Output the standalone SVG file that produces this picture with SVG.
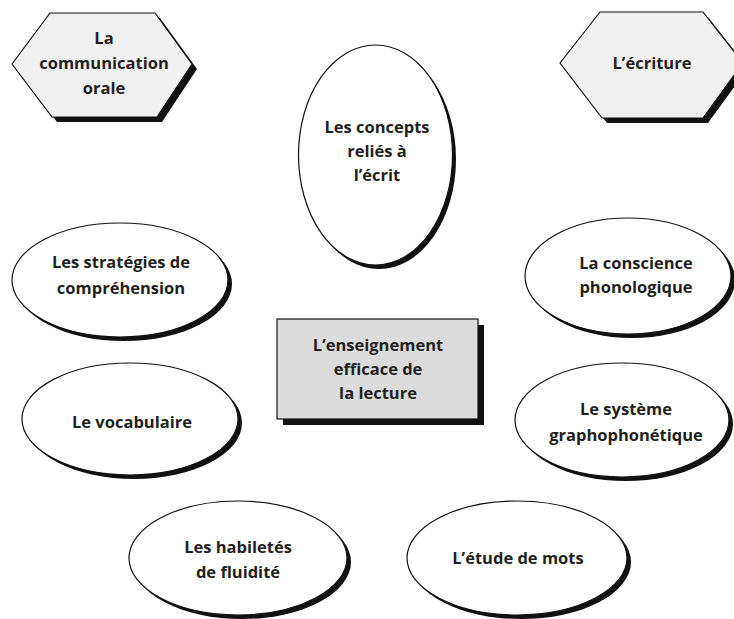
<svg xmlns="http://www.w3.org/2000/svg" width="734" height="619" viewBox="0 0 734 619">
<style>
.sh{fill:#111;stroke:none}
.hex{fill:#f1f1f2;stroke:#111;stroke-width:1.2}
.ell{fill:#fff;stroke:#111;stroke-width:1.2}
.box{fill:#dcdcdc;stroke:#111;stroke-width:1.2}
text{font-family:"Open Sans","Noto Sans","Liberation Sans",sans-serif;font-weight:700;font-size:16.5px;fill:#231f20;text-anchor:middle}
</style>
<rect width="734" height="619" fill="#fff"/>
<g id="connectors"></g>
<g id="n-oral">
<polygon class="sh" points="17,69 55,18 160,18 197,69 162,122 57,122"/>
<polygon class="hex" points="12,64 50,13 155,13 192,64 157,117 52,117"/>
<text x="104" y="44">La</text>
<text x="104" y="69">communication</text>
<text x="104" y="94">orale</text>
</g>
<g id="n-ecriture">
<polygon class="sh" points="565,68 605,17 708,17 748,68 708,123 607,123"/>
<polygon class="hex" points="560,63 600,12 703,12 743,63 703,118 602,118"/>
<text x="652" y="69">L’écriture</text>
</g>
<g id="n-concepts">
<ellipse class="sh" cx="379" cy="159" rx="77" ry="110"/>
<ellipse class="ell" cx="375.5" cy="155" rx="77" ry="110"/>
<text x="377" y="133">Les concepts</text>
<text x="377" y="157">reliés à</text>
<text x="377" y="181">l’écrit</text>
</g>
<g id="n-strategies">
<ellipse class="sh" cx="124" cy="284" rx="108" ry="57"/>
<ellipse class="ell" cx="120" cy="280" rx="108" ry="57"/>
<text x="121" y="268">Les stratégies de</text>
<text x="121" y="294">compréhension</text>
</g>
<g id="n-conscience">
<ellipse class="sh" cx="632" cy="280" rx="103" ry="58"/>
<ellipse class="ell" cx="628" cy="276" rx="103" ry="58"/>
<text x="636" y="269">La conscience</text>
<text x="636" y="293">phonologique</text>
</g>
<g id="n-centre">
<rect class="sh" x="283" y="325" width="201" height="100"/>
<rect class="box" x="277" y="319" width="201" height="100"/>
<text x="378" y="351">L’enseignement</text>
<text x="378" y="375">efficace de</text>
<text x="378" y="399">la lecture</text>
</g>
<g id="n-vocabulaire">
<ellipse class="sh" cx="134" cy="423" rx="108" ry="56"/>
<ellipse class="ell" cx="130" cy="419" rx="108" ry="56"/>
<text x="132" y="428">Le vocabulaire</text>
</g>
<g id="n-systeme">
<ellipse class="sh" cx="626" cy="424" rx="107" ry="57"/>
<ellipse class="ell" cx="622" cy="420" rx="107" ry="57"/>
<text x="626" y="415">Le système</text>
<text x="626" y="441">graphophonétique</text>
</g>
<g id="n-fluidite">
<ellipse class="sh" cx="242" cy="562" rx="109" ry="57"/>
<ellipse class="ell" cx="238" cy="558" rx="109" ry="57"/>
<text x="238" y="553">Les habiletés</text>
<text x="238" y="578">de fluidité</text>
</g>
<g id="n-mots">
<ellipse class="sh" cx="521" cy="562" rx="110" ry="57"/>
<ellipse class="ell" cx="517" cy="558" rx="110" ry="57"/>
<text x="518" y="564">L’étude de mots</text>
</g>
</svg>
